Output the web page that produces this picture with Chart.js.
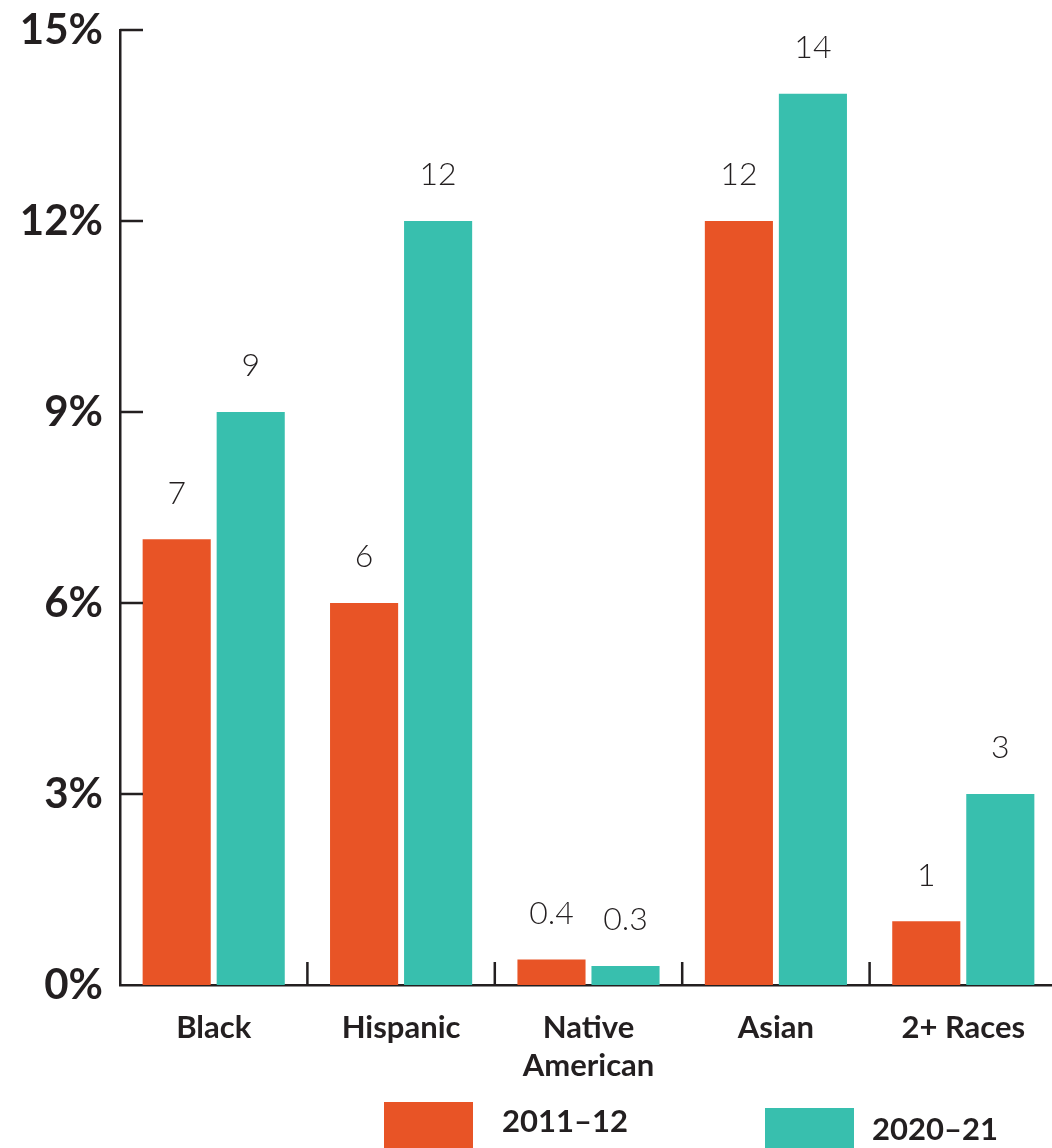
<!DOCTYPE html>
<html>
<head>
<meta charset="utf-8">
<script src="https://cdn.jsdelivr.net/npm/chart.js@4.4.0/dist/chart.umd.min.js"></script>
<style>
  html, body { margin: 0; padding: 0; background: #fff; overflow: hidden; }
  #wrap { width: 1052px; height: 1148px; overflow: hidden; }
  #wrap div { width: 1057px; height: 1148px; }
</style>
</head>
<body>
<div id="wrap"><div><canvas id="raceChart"></canvas></div></div>
<script>
var categories = [['Black'], ['Hispanic'], ['Native', 'American'], ['Asian'], ['2+ Races']];
var seriesNames = ['2011\u201312', '2020\u201321'];
var values2011 = [7, 6, 0.4, 12, 1];
var values2020 = [9, 12, 0.3, 14, 3];
var yTicks = [0, 3, 6, 9, 12, 15];

var orange = '#e85426';
var teal = '#38bfae';
var ink = '#231f20';

// value labels above each bar
var valueLabels = {
    id: 'valueLabels',
    afterDatasetsDraw: function(chart) {
        var ctx = chart.ctx;
        ctx.save();
        ctx.fillStyle = ink;
        ctx.font = '300 32px Lato';
        ctx.textAlign = 'center';
        ctx.textBaseline = 'middle';
        chart.data.datasets.forEach(function(ds, i) {
            chart.getDatasetMeta(i).data.forEach(function(bar, j) {
                ctx.fillText(String(ds.data[j]), bar.x, bar.y - 46);
            });
        });
        ctx.restore();
    }
};

// inward tick marks on both axes
var innerTicks = {
    id: 'innerTicks',
    afterDraw: function(chart) {
        var ctx = chart.ctx, area = chart.chartArea;
        var x = chart.scales.x, y = chart.scales.y;
        ctx.save();
        ctx.strokeStyle = ink;
        ctx.lineWidth = 2.5;
        ctx.beginPath();
        yTicks.forEach(function(v) {
            if (v === 0) return;
            var py = y.getPixelForValue(v);
            ctx.moveTo(area.left, py);
            ctx.lineTo(area.left + 23, py);
        });
        for (var i = 1; i < categories.length; i++) {
            var px = (x.getPixelForTick(i - 1) + x.getPixelForTick(i)) / 2;
            ctx.moveTo(px, area.bottom);
            ctx.lineTo(px, area.bottom - 23);
        }
        ctx.stroke();
        ctx.restore();
    }
};

// legend drawn below the axis labels
var bottomLegend = {
    id: 'bottomLegend',
    afterDraw: function(chart) {
        var ctx = chart.ctx, area = chart.chartArea;
        var spots = [
            { x: 384, y: area.bottom + 117, tx: 502, ty: area.bottom + 137 },
            { x: 765, y: area.bottom + 123, tx: 872, ty: area.bottom + 145 }
        ];
        ctx.save();
        ctx.font = 'bold 31px Lato';
        ctx.textBaseline = 'middle';
        ctx.textAlign = 'left';
        chart.data.datasets.forEach(function(ds, i) {
            var s = spots[i];
            ctx.fillStyle = ds.backgroundColor;
            ctx.fillRect(s.x, s.y, 89, 60);
            ctx.fillStyle = ink;
            ctx.fillText(ds.label, s.tx, s.ty);
        });
        ctx.restore();
    }
};

var ctx = document.getElementById('raceChart').getContext('2d');
var chart = new Chart(ctx, {
    type: 'bar',
    data: {
        labels: categories,
        datasets: [{
            label: seriesNames[0],
            backgroundColor: orange,
            data: values2011
        }, {
            label: seriesNames[1],
            backgroundColor: teal,
            data: values2020
        }]
    },
    options: {
        responsive: true,
        maintainAspectRatio: false,
        animation: false,
        layout: { padding: { top: 30, right: 0, bottom: 0, left: 0 } },
        categoryPercentage: 0.79,
        barPercentage: 0.92,
        plugins: {
            legend: { display: false },
            tooltip: { enabled: false }
        },
        scales: {
            x: {
                grid: { display: false, drawTicks: false },
                border: { display: true, color: ink, width: 2.5 },
                ticks: {
                    color: ink,
                    padding: 24,
                    font: { family: 'Lato', weight: 'bold', size: 31, lineHeight: 1.23 }
                },
                afterFit: function(scale) {
                    scale.height = 163;
                    scale.paddingLeft = 0;
                    scale.paddingRight = 0;
                }
            },
            y: {
                min: 0,
                max: 15,
                afterBuildTicks: function(scale) {
                    scale.ticks = yTicks.map(function(v) { return { value: v }; });
                },
                grid: { display: false, drawTicks: false },
                border: { display: true, color: ink, width: 2.5 },
                ticks: {
                    color: ink,
                    padding: 17,
                    font: { family: 'Lato', weight: 'bold', size: 42 },
                    callback: function(v) { return v + '%'; }
                },
                afterFit: function(scale) {
                    scale.width = 120;
                    scale.paddingTop = 0;
                    scale.paddingBottom = 0;
                }
            }
        }
    },
    plugins: [valueLabels, innerTicks, bottomLegend]
});
</script>
</body>
</html>
